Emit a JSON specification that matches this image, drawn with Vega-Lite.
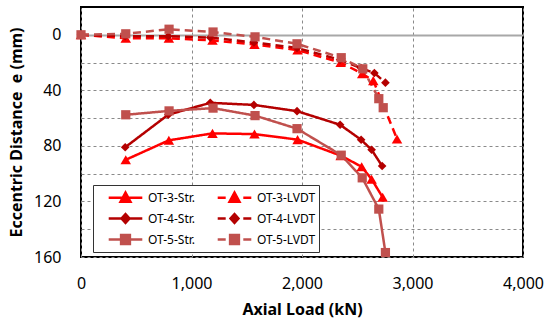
{
  "$schema": "https://vega.github.io/schema/vega-lite/v6.json",
  "width": 442,
  "height": 250,
  "autosize": {"type": "none"},
  "padding": {"left": 81, "top": 7, "right": 22, "bottom": 66},
  "background": "white",
  "config": {
    "view": {"stroke": "#000", "strokeWidth": 2},
    "font": "Noto Sans",
    "axis": {
      "labelFont": "Noto Sans", "labelFontSize": 16, "labelColor": "#000",
      "titleFont": "Noto Sans", "titleFontSize": 16, "titleFontWeight": "bold", "titleColor": "#000",
      "ticks": false, "tickSize": 0, "domain": false,
      "gridColor": "#8a8a8a", "gridDash": [3, 3], "gridWidth": 1
    }
  },
  "data": {"values": [
    {"series": "OT-3-Str.", "load": 405, "e": 90},
    {"series": "OT-3-Str.", "load": 795, "e": 76},
    {"series": "OT-3-Str.", "load": 1190, "e": 71},
    {"series": "OT-3-Str.", "load": 1570, "e": 71.5},
    {"series": "OT-3-Str.", "load": 1960, "e": 75.5},
    {"series": "OT-3-Str.", "load": 2350, "e": 87},
    {"series": "OT-3-Str.", "load": 2540, "e": 95},
    {"series": "OT-3-Str.", "load": 2630, "e": 104},
    {"series": "OT-3-Str.", "load": 2730, "e": 117},
    {"series": "OT-4-Str.", "load": 400, "e": 81},
    {"series": "OT-4-Str.", "load": 790, "e": 57.5},
    {"series": "OT-4-Str.", "load": 1170, "e": 49},
    {"series": "OT-4-Str.", "load": 1565, "e": 50.5},
    {"series": "OT-4-Str.", "load": 1955, "e": 55},
    {"series": "OT-4-Str.", "load": 2345, "e": 64.8},
    {"series": "OT-4-Str.", "load": 2535, "e": 75.6},
    {"series": "OT-4-Str.", "load": 2630, "e": 82.8},
    {"series": "OT-4-Str.", "load": 2725, "e": 94.5},
    {"series": "OT-5-Str.", "load": 405, "e": 57.6},
    {"series": "OT-5-Str.", "load": 797, "e": 54.8},
    {"series": "OT-5-Str.", "load": 1195, "e": 52.8},
    {"series": "OT-5-Str.", "load": 1575, "e": 58.2},
    {"series": "OT-5-Str.", "load": 1955, "e": 67.6},
    {"series": "OT-5-Str.", "load": 2355, "e": 86.7},
    {"series": "OT-5-Str.", "load": 2545, "e": 103},
    {"series": "OT-5-Str.", "load": 2695, "e": 125.5},
    {"series": "OT-5-Str.", "load": 2755, "e": 156.8},
    {"series": "OT-3-LVDT", "load": 0, "e": 0},
    {"series": "OT-3-LVDT", "load": 405, "e": 2.5},
    {"series": "OT-3-LVDT", "load": 795, "e": 2.5},
    {"series": "OT-3-LVDT", "load": 1190, "e": 4},
    {"series": "OT-3-LVDT", "load": 1570, "e": 7},
    {"series": "OT-3-LVDT", "load": 1960, "e": 11},
    {"series": "OT-3-LVDT", "load": 2350, "e": 20},
    {"series": "OT-3-LVDT", "load": 2545, "e": 28},
    {"series": "OT-3-LVDT", "load": 2645, "e": 33},
    {"series": "OT-3-LVDT", "load": 2860, "e": 75},
    {"series": "OT-4-LVDT", "load": 0, "e": 0},
    {"series": "OT-4-LVDT", "load": 400, "e": 1},
    {"series": "OT-4-LVDT", "load": 790, "e": 1},
    {"series": "OT-4-LVDT", "load": 1170, "e": 2},
    {"series": "OT-4-LVDT", "load": 1565, "e": 5.5},
    {"series": "OT-4-LVDT", "load": 1955, "e": 9.5},
    {"series": "OT-4-LVDT", "load": 2345, "e": 18},
    {"series": "OT-4-LVDT", "load": 2535, "e": 24},
    {"series": "OT-4-LVDT", "load": 2655, "e": 27.5},
    {"series": "OT-4-LVDT", "load": 2755, "e": 34.5},
    {"series": "OT-5-LVDT", "load": 0, "e": 0},
    {"series": "OT-5-LVDT", "load": 405, "e": -0.7},
    {"series": "OT-5-LVDT", "load": 797, "e": -4},
    {"series": "OT-5-LVDT", "load": 1195, "e": -2},
    {"series": "OT-5-LVDT", "load": 1575, "e": 1.5},
    {"series": "OT-5-LVDT", "load": 1955, "e": 6.5},
    {"series": "OT-5-LVDT", "load": 2355, "e": 16.5},
    {"series": "OT-5-LVDT", "load": 2550, "e": 24.5},
    {"series": "OT-5-LVDT", "load": 2695, "e": 46},
    {"series": "OT-5-LVDT", "load": 2735, "e": 52.5}
  ]},
  "encoding": {
    "x": {
      "field": "load", "type": "quantitative",
      "scale": {"domain": [0, 4000], "nice": false, "zero": false},
      "axis": {
        "title": "Axial Load (kN)", "values": [0, 1000, 2000, 3000, 4000], "format": ",.0f",
        "labelPadding": 18, "titlePadding": 10, "grid": true, "labelFlush": false, "labelOverlap": false
      }
    },
    "y": {
      "field": "e", "type": "quantitative",
      "scale": {"domain": [-20, 160], "reverse": true, "nice": false, "zero": false},
      "axis": {
        "title": "Eccentric Distance\u00a0 e (mm)",
        "values": [0, 20, 40, 60, 80, 100, 120, 140, 160],
        "format": "d",
        "labelExpr": "datum.value % 40 === 0 ? datum.label : ''",
        "labelPadding": 20, "titlePadding": 9, "grid": true,
        "gridDash": {"condition": {"test": "datum.value === 0", "value": [1, 0]}, "value": [3, 3]},
        "gridColor": {"condition": {"test": "datum.value === 0", "value": "#a8a8a8"}, "value": "#8a8a8a"},
        "gridWidth": {"condition": {"test": "datum.value === 0", "value": 2}, "value": 1}
      }
    }
  },
  "layer": [
    {
      "mark": {"type": "line", "strokeWidth": 2.5},
      "encoding": {
        "color": {"field": "series", "type": "nominal", "legend": null,
          "scale": {"range": ["#FF0000", "#FF0000", "#B40000", "#B40000", "#C0504D", "#C0504D"]}},
        "strokeDash": {"field": "series", "type": "nominal", "legend": null,
          "scale": {"range": [[8, 5], [1, 0], [8, 5], [1, 0], [8, 5], [1, 0]]}}
      }
    },
    {
      "transform": [{"filter": {"field": "series", "oneOf": ["OT-3-Str.", "OT-3-LVDT"]}}],
      "mark": {"type": "point", "shape": "triangle-up", "filled": true, "size": 110, "opacity": 1, "strokeWidth": 1},
      "encoding": {"color": {"field": "series", "type": "nominal", "legend": null}}
    },
    {
      "transform": [{"filter": {"field": "series", "oneOf": ["OT-4-Str.", "OT-4-LVDT"]}}],
      "mark": {"type": "point", "shape": "diamond", "filled": true, "size": 75, "opacity": 1, "strokeWidth": 1},
      "encoding": {"color": {"field": "series", "type": "nominal", "legend": null}}
    },
    {
      "transform": [{"filter": {"field": "series", "oneOf": ["OT-5-Str.", "OT-5-LVDT"]}}],
      "mark": {"type": "point", "shape": "square", "filled": true, "size": 85, "opacity": 1, "strokeWidth": 1},
      "encoding": {"color": {"field": "series", "type": "nominal", "legend": null}}
    },
    {
      "mark": {"type": "point", "filled": true, "opacity": 0},
      "encoding": {
        "fill": {"field": "series", "type": "nominal",
          "scale": {"domain": ["OT-3-Str.", "OT-4-Str.", "OT-5-Str.", "OT-3-LVDT", "OT-4-LVDT", "OT-5-LVDT"],
                    "range": ["#FF0000", "#B40000", "#C0504D", "#FF0000", "#B40000", "#C0504D"]}},
        "stroke": {"field": "series", "type": "nominal",
          "scale": {"domain": ["OT-3-Str.", "OT-4-Str.", "OT-5-Str.", "OT-3-LVDT", "OT-4-LVDT", "OT-5-LVDT"],
                    "range": ["#FF0000", "#B40000", "#C0504D", "#FF0000", "#B40000", "#C0504D"]}},
        "shape": {"field": "series", "type": "nominal",
          "scale": {"domain": ["OT-3-Str.", "OT-4-Str.", "OT-5-Str.", "OT-3-LVDT", "OT-4-LVDT", "OT-5-LVDT"],
                    "range": [
                      "M-2.1,0H2.1M0,-0.65L0.62,0.5L-0.62,0.5Z",
                      "M-2.1,0H2.1M0,-0.56L0.5,0L0,0.56L-0.5,0Z",
                      "M-2.1,0H2.1M-0.55,-0.55H0.55V0.55H-0.55Z",
                      "M-2.1,0H-1.1M1.1,0H2.1M0,-0.65L0.62,0.5L-0.62,0.5Z",
                      "M-2.1,0H-1.1M1.1,0H2.1M0,-0.56L0.5,0L0,0.56L-0.5,0Z",
                      "M-2.1,0H-1.1M1.1,0H2.1M-0.55,-0.55H0.55V0.55H-0.55Z"
                    ]},
          "legend": {
            "title": null, "orient": "none", "legendX": 12, "legendY": 178,
            "columns": 2, "columnPadding": 10, "rowPadding": 2, "padding": 3,
            "symbolSize": 256, "symbolStrokeWidth": 2.5, "symbolOpacity": 1, "symbolOffset": 20,
            "labelFont": "Noto Sans", "labelFontSize": 12, "labelColor": "#000", "labelOffset": 13,
            "strokeColor": "#333", "fillColor": "white"
          }
        }
      }
    }
  ]
}
